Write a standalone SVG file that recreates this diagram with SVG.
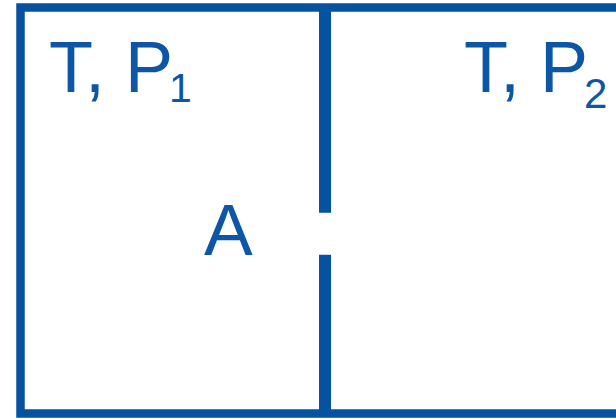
<svg xmlns="http://www.w3.org/2000/svg" width="616" height="419" viewBox="0 0 616 419">
<style>
.wall{fill:none;stroke:#0452a0;stroke-linejoin:miter;stroke-linecap:butt}
.lbl{font-family:"Liberation Sans",Arial,sans-serif;fill:#0d55a5}
</style>
<rect width="616" height="419" fill="#ffffff"/>
<g id="container">
<path class="wall" stroke-width="8.5" d="M616 7.5 H20.5 V413.5 H616"/>
</g>
<g id="partition">
<path class="wall" stroke-width="12" d="M325 7.5 V212.7 M325 254.7 V413.5"/>
</g>
<g id="left-chamber">
<text class="lbl" x="49" y="92" font-size="72">T, P<tspan x="169" y="102" font-size="41">1</tspan></text>
</g>
<g id="right-chamber">
<text class="lbl" x="464" y="92" font-size="72">T, P<tspan x="584" y="108" font-size="42">2</tspan></text>
</g>
<g id="aperture">
<text class="lbl" x="204" y="255" font-size="73">A</text>
</g>
</svg>
